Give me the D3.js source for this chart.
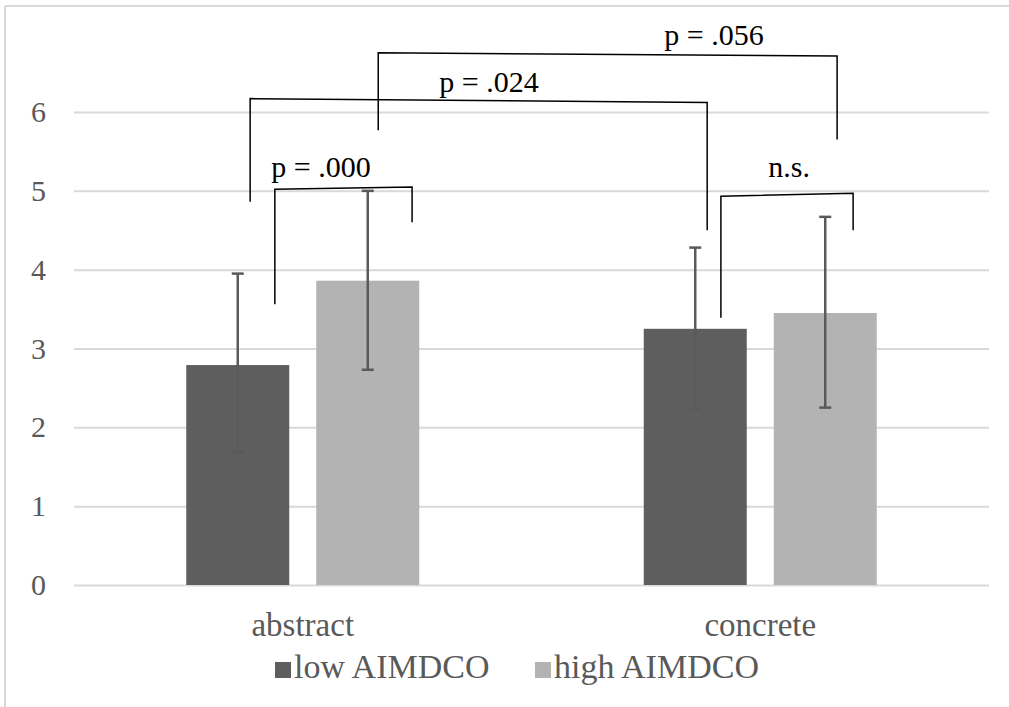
<!DOCTYPE html>
<html>
<head>
<meta charset="utf-8">
<script src="https://cdn.jsdelivr.net/npm/d3@7"></script>
</head>
<body style="margin:0">
<script>
var width = 1009,
  height = 707,
  serif = "Liberation Serif";

// ---------- data ----------
var categories = ["abstract", "concrete"];
var series = ["low AIMDCO", "high AIMDCO"];
var means = [[2.79, 3.86], [3.25, 3.45]];
var errLow = [[1.68, 2.73], [2.23, 2.25]];
var errHigh = [[3.95, 5.0], [4.28, 4.67]];
var yTicks = [0, 1, 2, 3, 4, 5, 6];

// significance brackets: x in category units (0 = abstract, 1 = concrete), y in data units
var bracketLabels = ["p = .000", "p = .024", "p = .056", "n.s."];
var bracketX = [[-0.061, 0.239], [-0.115, 0.884], [0.165, 1.168], [0.914, 1.203]];
var bracketTop = [[5.02, 5.05], [6.17, 6.12], [6.75, 6.71], [4.93, 4.97]];
var bracketBottom = [[3.56, 4.6], [4.86, 4.5], [5.77, 5.65], [3.39, 4.5]];
var labelX = [0.04, 0.407, 0.899, 1.063];
var labelY = [5.17, 6.25, 6.85, 5.17];

var colors = ["#5e5e5e", "#b3b3b3"];

var svg = d3.select("body")
  .append("svg")
  .attr("width", width)
  .attr("height", height);

// frame
svg.append("line").attr("x1", 5).attr("x2", width).attr("y1", 6).attr("y2", 6)
  .attr("stroke", "#d9d9d9").attr("stroke-width", 2);
svg.append("line").attr("x1", 5).attr("x2", 5).attr("y1", 6).attr("y2", height)
  .attr("stroke", "#d9d9d9").attr("stroke-width", 2);

//----------scales----------
var x0 = d3.scaleBand()
  .domain(categories)
  .range([74, 989]);

var x1 = d3.scaleBand()
  .domain(series)
  .range([0, x0.bandwidth()])
  .paddingInner(0.2077)
  .paddingOuter(0.8635);

var yScale = d3.scaleLinear()
  .domain([0, 6])
  .range([585, 112]);

var xc = d3.scaleLinear()
  .domain([0, 1])
  .range([x0(categories[0]) + x0.bandwidth() / 2, x0(categories[1]) + x0.bandwidth() / 2]);

//----------grid + y labels----------
var yAxis = d3.axisLeft(yScale)
  .tickValues(yTicks)
  .tickSize(-(989 - 74))
  .tickPadding(28)
  .tickFormat(d3.format("d"));

var gy = svg.append("g")
  .attr("transform", "translate(74,0)")
  .call(yAxis)
  .attr("font-family", serif)
  .attr("font-size", 30);
gy.select(".domain").remove();
gy.selectAll(".tick line").attr("stroke", "#d9d9d9").attr("stroke-width", 2);
gy.selectAll(".tick text")
  .attr("fill", "#595959")
  .style("font-family", serif)
  .style("font-size", "30px");

//----------bars----------
var groups = svg.selectAll(".grp")
  .data(categories)
  .enter()
  .append("g")
  .attr("class", "grp")
  .attr("transform", function (d) { return "translate(" + x0(d) + ",0)"; });

groups.selectAll("rect")
  .data(function (d, i) {
    return series.map(function (s, j) {
      return { s: s, j: j, v: means[i][j] };
    });
  })
  .enter()
  .append("rect")
  .attr("x", function (d) { return x1(d.s); })
  .attr("width", x1.bandwidth())
  .attr("y", function (d) { return yScale(d.v); })
  .attr("height", function (d) { return yScale(0) - yScale(d.v); })
  .attr("fill", function (d) { return colors[d.j]; });

//----------error bars----------
var eb = groups.selectAll(".err")
  .data(function (d, i) {
    return series.map(function (s, j) {
      return { s: s, lo: errLow[i][j], hi: errHigh[i][j] };
    });
  })
  .enter()
  .append("g")
  .attr("class", "err")
  .attr("stroke", "#5a5a5a")
  .attr("stroke-width", 2.5);

eb.append("line")
  .attr("x1", function (d) { return x1(d.s) + x1.bandwidth() / 2; })
  .attr("x2", function (d) { return x1(d.s) + x1.bandwidth() / 2; })
  .attr("y1", function (d) { return yScale(d.lo); })
  .attr("y2", function (d) { return yScale(d.hi); });
eb.append("line")
  .attr("x1", function (d) { return x1(d.s) + x1.bandwidth() / 2 - 6; })
  .attr("x2", function (d) { return x1(d.s) + x1.bandwidth() / 2 + 6; })
  .attr("y1", function (d) { return yScale(d.hi); })
  .attr("y2", function (d) { return yScale(d.hi); });
eb.append("line")
  .attr("x1", function (d) { return x1(d.s) + x1.bandwidth() / 2 - 6; })
  .attr("x2", function (d) { return x1(d.s) + x1.bandwidth() / 2 + 6; })
  .attr("y1", function (d) { return yScale(d.lo); })
  .attr("y2", function (d) { return yScale(d.lo); });

//----------category labels----------
svg.selectAll(".cat")
  .data(categories)
  .enter()
  .append("text")
  .attr("class", "cat")
  .attr("x", function (d) { return x0(d) + x0.bandwidth() / 2; })
  .attr("y", 636)
  .attr("text-anchor", "middle")
  .attr("fill", "#595959")
  .style("font-family", serif)
  .style("font-size", "33px")
  .text(function (d) { return d; });

//----------brackets----------
var line = d3.line();
bracketLabels.forEach(function (lab, i) {
  var pts = [
    [xc(bracketX[i][0]), yScale(bracketBottom[i][0])],
    [xc(bracketX[i][0]), yScale(bracketTop[i][0])],
    [xc(bracketX[i][1]), yScale(bracketTop[i][1])],
    [xc(bracketX[i][1]), yScale(bracketBottom[i][1])]
  ];
  svg.append("path")
    .attr("d", line(pts))
    .attr("fill", "none")
    .attr("stroke", "#000")
    .attr("stroke-width", 1.5);
  svg.append("text")
    .attr("x", xc(labelX[i]))
    .attr("y", yScale(labelY[i]))
    .attr("text-anchor", "middle")
    .attr("fill", "#000")
    .style("font-family", serif)
    .style("font-size", "30px")
    .text(lab);
});

//----------legend----------
var legendX = [275, 535];
var lg = svg.selectAll(".leg")
  .data(series)
  .enter()
  .append("g")
  .attr("class", "leg")
  .attr("transform", function (d, i) { return "translate(" + legendX[i] + ",662)"; });
lg.append("rect")
  .attr("width", 16)
  .attr("height", 16)
  .attr("fill", function (d, i) { return colors[i]; });
lg.append("text")
  .attr("x", 19)
  .attr("y", 16)
  .attr("fill", "#595959")
  .style("font-family", serif)
  .style("font-size", "34px")
  .text(function (d) { return d; });
</script>
</body>
</html>
